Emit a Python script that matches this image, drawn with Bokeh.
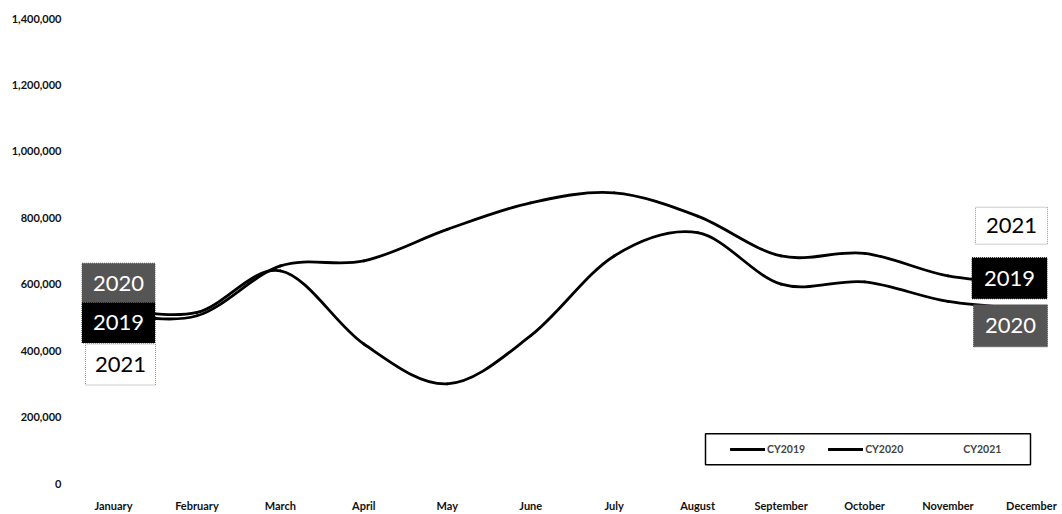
import numpy as np
from bokeh.plotting import figure
from bokeh.models import (Range1d, FixedTicker, NumeralTickFormatter, Legend,
                          LegendItem, ColumnDataSource)
from bokeh.core.properties import value
from bokeh.embed import file_html
from bokeh.resources import INLINE

# ---- data -------------------------------------------------------------
months = ["January", "February", "March", "April", "May", "June", "July",
          "August", "September", "October", "November", "December"]
cy2019 = [510000, 505000, 655000, 670000, 765000, 845000, 875000, 805000,
          685000, 693000, 625000, 600000]
cy2020 = [525000, 515000, 640000, 420000, 300000, 445000, 685000, 755000,
          600000, 607000, 548000, 525000]
cy2021 = []
y_ticks = [0, 200000, 400000, 600000, 800000, 1000000, 1200000, 1400000]

FONT = "Lato"

# ---- layout helpers (pixel -> data, for the annotation boxes) -----------
FRAME_LEFT, FRAME_TOP, FRAME_BOTTOM = 80, 18, 487
FIRST_X_PX, STEP_PX = 113, 83.45
Y_MAX = 1400000
x_start = (FRAME_LEFT - FIRST_X_PX) / STEP_PX
x_end = x_start + (1062 - FRAME_LEFT) / STEP_PX


def dx(px):
    return (px - FIRST_X_PX) / STEP_PX


def dy(py):
    return (FRAME_BOTTOM - py) * Y_MAX / (FRAME_BOTTOM - FRAME_TOP)


def smooth_segments(ys):
    """Cubic Bezier segments through every point (Catmull-Rom style)."""
    y = np.asarray(ys, dtype=float)
    x = np.arange(len(y), dtype=float)
    n = len(y)
    i = np.arange(n - 1)
    prev = np.maximum(i - 1, 0)
    nxt = np.minimum(i + 2, n - 1)
    return dict(
        x0=x[i], y0=y[i], x1=x[i + 1], y1=y[i + 1],
        cx0=x[i] + (x[i + 1] - x[prev]) / 6.0,
        cy0=y[i] + (y[i + 1] - y[prev]) / 6.0,
        cx1=x[i + 1] - (x[nxt] - x[i]) / 6.0,
        cy1=y[i + 1] - (y[nxt] - y[i]) / 6.0,
    )


p = figure(width=1062, height=514, output_backend="svg", toolbar_location=None,
           x_range=Range1d(x_start, x_end), y_range=Range1d(0, Y_MAX),
           min_border_left=FRAME_LEFT, min_border_right=0,
           min_border_top=FRAME_TOP, min_border_bottom=514 - FRAME_BOTTOM)
p.outline_line_color = None
p.background_fill_color = "white"
p.border_fill_color = "white"
p.xgrid.grid_line_color = None
p.ygrid.grid_line_color = None

# ---- axes ---------------------------------------------------------------
p.xaxis.ticker = FixedTicker(ticks=list(range(len(months))))
p.xaxis.major_label_overrides = {i: m for i, m in enumerate(months)}
p.yaxis.ticker = FixedTicker(ticks=y_ticks)
p.yaxis.formatter = NumeralTickFormatter(format="0,0")
for ax in (p.xaxis, p.yaxis):
    ax.axis_line_color = None
    ax.major_tick_line_color = None
    ax.minor_tick_line_color = None
    ax.major_label_text_font = FONT
    ax.major_label_text_font_size = "11px"
    ax.major_label_text_font_style = "bold"
    ax.major_label_text_color = "#111111"
p.xaxis.major_label_standoff = 9
p.yaxis.major_label_standoff = 13

# ---- smoothed series ---------------------------------------------------
r20 = p.bezier(source=ColumnDataSource(smooth_segments(cy2020)),
               x0="x0", y0="y0", x1="x1", y1="y1",
               cx0="cx0", cy0="cy0", cx1="cx1", cy1="cy1",
               line_color="black", line_width=2.8, line_cap="round")
r19 = p.bezier(source=ColumnDataSource(smooth_segments(cy2019)),
               x0="x0", y0="y0", x1="x1", y1="y1",
               cx0="cx0", cy0="cy0", cx1="cx1", cy1="cy1",
               line_color="black", line_width=2.8, line_cap="round")
# CY2021 has no values yet
r21 = p.line(x=[], y=cy2021, line_color="white", line_alpha=0)

# ---- year tags at both ends --------------------------------------------
GRAY = "#555555"
tags = [
    # text, centre x px, centre y px, width, height, fill, text colour
    ("2020", 118, 285, 73, 40, GRAY, "white"),
    ("2019", 118, 325, 73, 40, "black", "white"),
    ("2021", 120, 367, 70, 41, "white", "black"),
    ("2021", 1011, 227, 72, 37, "white", "black"),
    ("2019", 1009, 280, 75, 41, "black", "white"),
    ("2020", 1010, 328, 74, 42, GRAY, "white"),
]
tag_src = ColumnDataSource(dict(
    text=[t[0] for t in tags],
    x=[dx(t[1]) for t in tags],
    y=[dy(t[2]) for t in tags],
    w=[t[3] for t in tags],
    h=[t[4] for t in tags],
    fill=[t[5] for t in tags],
    tcol=[t[6] for t in tags],
    border=["#999999" if t[5] == "white" else t[5] for t in tags],
))
p.rect(x="x", y="y", width="w", height="h", width_units="screen",
       height_units="screen", fill_color="fill", line_color="border",
       line_dash="1 1", line_width=1, source=tag_src)
p.text(x="x", y="y", text="text", text_color="tcol", text_align="center",
       text_baseline="middle", text_font=value(FONT), text_font_size="22px",
       source=tag_src)

# ---- legend ------------------------------------------------------------
p.rect(x=[dx(867.5)], y=[dy(452.5)], width=325, height=31,
       width_units="screen", height_units="screen",
       fill_color=None, line_color="black", line_width=1.5)
legend = Legend(
    items=[LegendItem(label="CY2019", renderers=[r19]),
           LegendItem(label="CY2020", renderers=[r20]),
           LegendItem(label="CY2021", renderers=[r21])],
    orientation="horizontal", location=(650, 25),
    border_line_alpha=0, background_fill_alpha=0,
    padding=0, margin=0, spacing=23, glyph_width=35, glyph_height=18,
    label_height=18, label_standoff=2,
    label_text_font=FONT, label_text_font_size="10.5px",
    label_text_font_style="bold",
)
p.add_layout(legend)

open("out.html", "w").write(file_html(p, INLINE))
